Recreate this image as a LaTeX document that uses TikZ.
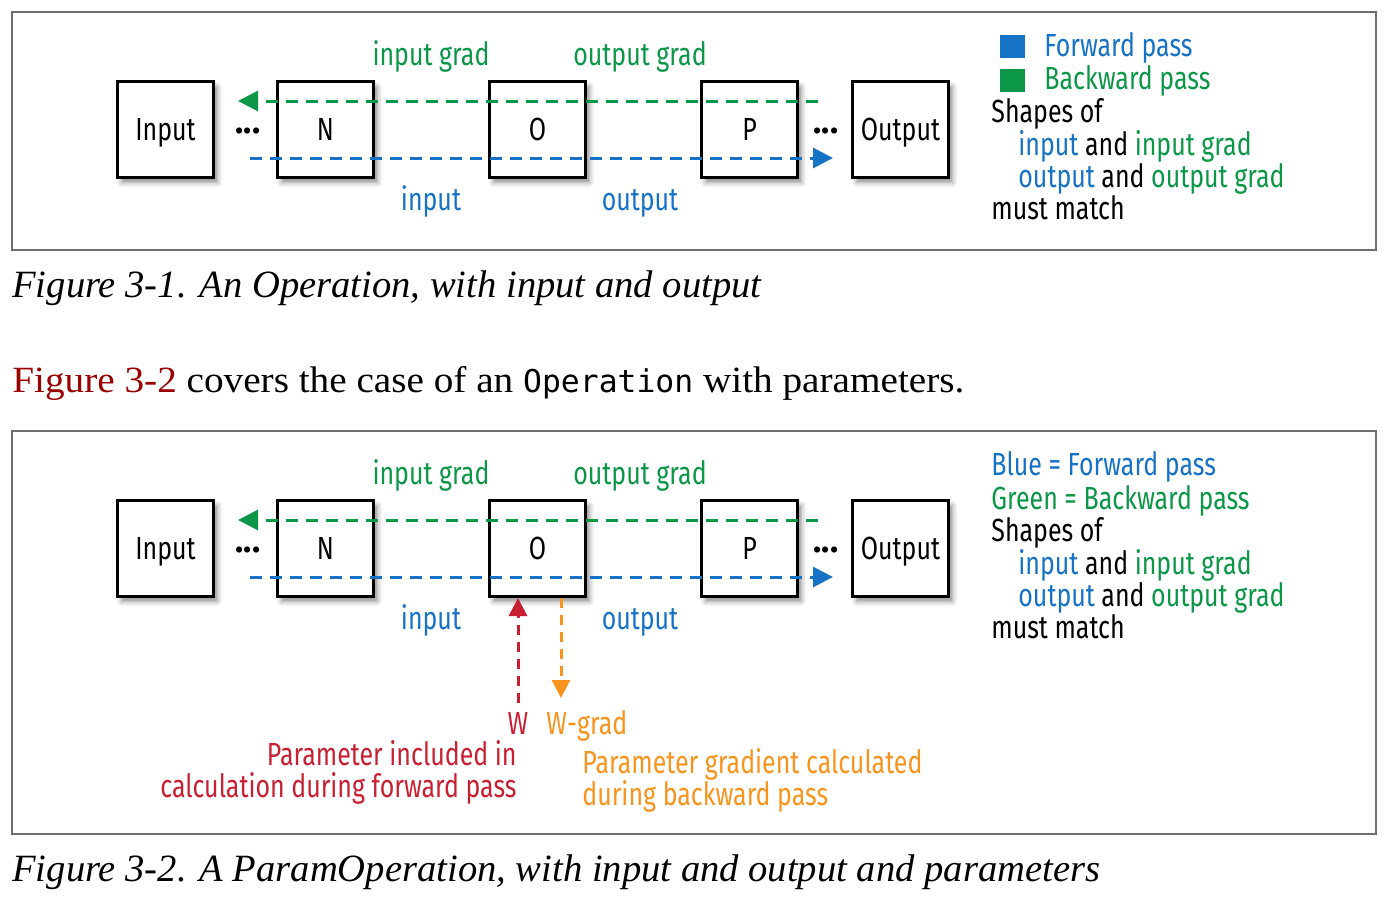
\documentclass[tikz,border=0pt]{standalone}
\usepackage{fontspec}
\setmainfont{Liberation Serif}
\newfontfamily\bodyserif[FakeStretch=1.06]{Liberation Serif}
\newfontfamily\dg[FakeStretch=0.78]{Fira Sans}
\newfontfamily\dgdots{Fira Sans}
\newfontfamily\cmono{DejaVu Sans Mono}
\usetikzlibrary{arrows.meta,shadows.blur}
\definecolor{fwd}{RGB}{22,114,196}
\definecolor{bwd}{RGB}{12,150,72}
\definecolor{wred}{RGB}{200,32,50}
\definecolor{worg}{RGB}{247,148,30}
\definecolor{xref}{RGB}{153,0,0}
\definecolor{framegray}{RGB}{110,110,110}
\begin{document}
\begin{tikzpicture}[x=0.5pt,y=-0.5pt,
  dtext/.style={font=\dg\fontsize{16}{16}\selectfont, inner sep=0pt},
  opbox/.style={draw=black, line width=1.5pt, fill=white, minimum width=48pt, minimum height=48pt,
    inner sep=0pt, text height=11pt, text depth=0pt,
    blur shadow={shadow xshift=2pt,shadow yshift=-2.5pt,shadow blur radius=2.5pt,shadow opacity=45},
    font=\dg\fontsize{16}{16}\selectfont},
  fwdline/.style={draw=fwd, line width=1.5pt, dash pattern=on 6pt off 4pt},
  bwdline/.style={draw=bwd, line width=1.5pt, dash pattern=on 6pt off 4pt},
  redline/.style={draw=wred, line width=1.5pt, dash pattern=on 5pt off 3.5pt},
  orgline/.style={draw=worg, line width=1.5pt, dash pattern=on 5pt off 3.5pt},
  tipfwd/.style={-{Triangle[length=10pt,width=10pt,fill=fwd]}},
  tipbwd/.style={-{Triangle[length=10pt,width=10pt,fill=bwd]}},
  frame/.style={draw=framegray, line width=0.75pt},
  caption/.style={font=\itshape\fontsize{19.3}{19.3}\selectfont, inner sep=0pt, anchor=base west},
  dots/.style={font=\dgdots\bfseries\fontsize{17}{17}\selectfont, inner sep=0pt, anchor=base},
]
\path[use as bounding box] (0,0) rectangle (1388,910);

% ---------------- Figure 3-1 ----------------
\draw[frame] (12,12) rectangle (1376,250);
\node[opbox] (in1) at (165.5,129.5) {Input};
\node[opbox] (n1) at (325.5,129.5) {N};
\node[opbox] (o1) at (537.5,129.5) {O};
\node[opbox] (p1) at (749.5,129.5) {P};
\node[opbox] (out1) at (900.5,129.5) {Output};
\node[dots] (d1a) at (248,133) {...};
\node[dots] (d1b) at (826,133) {...};
\coordinate (g1s) at (818,101);
\coordinate (g1e) at (238,101);
\coordinate (b1s) at (250,158);
\coordinate (b1e) at (833,158);
\draw[bwdline,tipbwd] (g1s) -- (g1e);
\draw[fwdline,tipfwd] (b1s) -- (b1e);
\node[dtext,text=bwd,anchor=base] (ig1) at (431,65) {input grad};
\node[dtext,text=bwd,anchor=base] (og1) at (640,65) {output grad};
\node[dtext,text=fwd,anchor=base] (i1) at (431,210) {input};
\node[dtext,text=fwd,anchor=base] (o1l) at (640,210) {output};
\fill[fwd] (1000,35) rectangle (1025,58);
\fill[bwd] (1000,69) rectangle (1025,92);
\node[dtext,text=fwd,anchor=base west] (l1a) at (1044,56) {Forward pass};
\node[dtext,text=bwd,anchor=base west] (l1b) at (1044,90) {Backward pass};
\node[dtext,anchor=base west] (l1c) at (991,122) {Shapes of};
\node[dtext,anchor=base west] (l1d) at (1018,155) {\textcolor{fwd}{input} and \textcolor{bwd}{input grad}};
\node[dtext,anchor=base west] (l1e) at (1018,187) {\textcolor{fwd}{output} and \textcolor{bwd}{output grad}};
\node[dtext,anchor=base west] (l1f) at (991,219) {must match};

\node[caption] (cap1) at (12,297) {Figure 3-1. An Operation, with input and output};
\node[font=\bodyserif\fontsize{18.5}{18.5}\selectfont, inner sep=0pt, anchor=base west] (body) at (12,392)
  {\textcolor{xref}{Figure 3-2} covers the case of an {\cmono\fontsize{15.7}{15.7}\selectfont Operation} with parameters.};

% ---------------- Figure 3-2 ----------------
\draw[frame] (12,431) rectangle (1376,834);
\node[opbox] (in2) at (165.5,548.5) {Input};
\node[opbox] (n2) at (325.5,548.5) {N};
\node[opbox] (o2) at (537.5,548.5) {O};
\node[opbox] (p2) at (749.5,548.5) {P};
\node[opbox] (out2) at (900.5,548.5) {Output};
\node[dots] (d2a) at (248,552) {...};
\node[dots] (d2b) at (826,552) {...};
\coordinate (g2s) at (818,520);
\coordinate (g2e) at (238,520);
\coordinate (b2s) at (250,577);
\coordinate (b2e) at (833,577);
\draw[bwdline,tipbwd] (g2s) -- (g2e);
\draw[fwdline,tipfwd] (b2s) -- (b2e);
\node[dtext,text=bwd,anchor=base] (ig2) at (431,484) {input grad};
\node[dtext,text=bwd,anchor=base] (og2) at (640,484) {output grad};
\node[dtext,text=fwd,anchor=base] (i2) at (431,629) {input};
\node[dtext,text=fwd,anchor=base] (o2l) at (640,629) {output};
\node[dtext,text=fwd,anchor=base west] (l2a) at (991,475) {Blue = Forward pass};
\node[dtext,text=bwd,anchor=base west] (l2b) at (991,509) {Green = Backward pass};
\node[dtext,anchor=base west] (l2c) at (991,541) {Shapes of};
\node[dtext,anchor=base west] (l2d) at (1018,574) {\textcolor{fwd}{input} and \textcolor{bwd}{input grad}};
\node[dtext,anchor=base west] (l2e) at (1018,606) {\textcolor{fwd}{output} and \textcolor{bwd}{output grad}};
\node[dtext,anchor=base west] (l2f) at (991,638) {must match};

\coordinate (wst) at (518,703);
\coordinate (wgend) at (561,698);
\draw[redline,-{Triangle[length=9pt,width=9pt,fill=wred]}] (wst) -- (o2.south -| wst);
\draw[orgline,-{Triangle[length=9pt,width=9pt,fill=worg]}] (o2.south -| wgend) -- (wgend);
\node[dtext,text=wred,anchor=base] (w) at (518,734) {W};
\node[dtext,text=worg,anchor=base west] (wg) at (546,734) {W-grad};
\node[dtext,text=wred,anchor=base east] (pr1) at (517,765) {Parameter included in};
\node[dtext,text=wred,anchor=base east] (pr2) at (517,797) {calculation during forward pass};
\node[dtext,text=worg,anchor=base west] (pg1) at (582,773) {Parameter gradient calculated};
\node[dtext,text=worg,anchor=base west] (pg2) at (582,805) {during backward pass};

\node[caption] (cap2) at (12,881) {Figure 3-2. A ParamOperation, with input and output and parameters};
\end{tikzpicture}
\end{document}
